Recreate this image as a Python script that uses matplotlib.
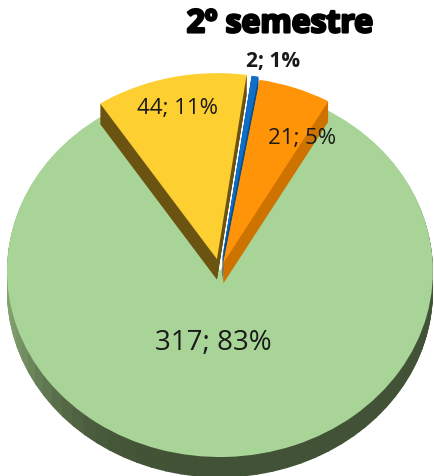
import numpy as np
import matplotlib.pyplot as plt
import matplotlib.patheffects as pe
from matplotlib.colors import to_rgb
from matplotlib.patches import Wedge

# slice values in the order they appear clockwise from the top
VALUES = [2, 21, 317, 44]
LABELS = ["2; 1%", "21; 5%", "317; 83%", "44; 11%"]
TITLE = "2º semestre"

TOP_COLORS = ["#0f6fc6", "#ff9408", "#a8d597", "#fdcf30"]
SIDE_COLORS = ["#0a4f8f", "#cf7300", "#425236", "#6b5312"]
WALL_LIGHT = "#86a673"   # lit left part of the big slice wall
EXPLODE = [0.06, 0.045, 0.0, 0.065]
LABEL_XY = [(0.25, 1.13), (0.385, 0.72), (-0.03, -0.38), (-0.2, 0.88)]
LABEL_SIZE = [15, 16, 20, 16]
LABEL_WEIGHT = ["bold", "normal", "normal", "normal"]

DEPTH = 0.11   # wall height in y data units
LAYERS = 25
SEGMENTS = 72

plt.rcParams["font.family"] = ["Open Sans", "DejaVu Sans"]

fig = plt.figure(figsize=(4.34, 4.77), dpi=100)
ax = fig.add_axes([0, 0, 1, 1])

wedges, _ = ax.pie(VALUES, colors=TOP_COLORS, startangle=82, counterclock=False,
                   explode=EXPLODE, radius=1, wedgeprops=dict(linewidth=0))

dark = np.array(to_rgb(SIDE_COLORS[2]))
light = np.array(to_rgb(WALL_LIGHT))

# extrude every slice downwards to fake the 3d wall
for i, w in enumerate(wedges):
    big = VALUES[i] == max(VALUES)
    w.set_zorder(2 if big else 5)
    cx, cy = w.center
    if big:
        # split the wall in thin pieces so the left side can be shaded lighter
        edges = np.linspace(w.theta1, w.theta2, SEGMENTS + 1)
        for a0, a1 in zip(edges[:-1], edges[1:]):
            mid = np.radians((a0 + a1) / 2)
            f = max(0.0, -np.cos(mid)) ** 4
            col = dark + (light - dark) * f
            for k in range(LAYERS, 0, -1):
                dy = DEPTH * k / LAYERS
                ax.add_patch(Wedge((cx, cy - dy), w.r, a0 - 0.3, a1 + 0.3,
                                   facecolor=col, edgecolor="none", zorder=1))
    else:
        for k in range(LAYERS, 0, -1):
            dy = DEPTH * k / LAYERS
            ax.add_patch(Wedge((cx, cy - dy), w.r, w.theta1, w.theta2,
                               facecolor=SIDE_COLORS[i], edgecolor="none", zorder=3))

for i, lab in enumerate(LABELS):
    ax.text(LABEL_XY[i][0], LABEL_XY[i][1], lab, ha="center", va="center",
            fontsize=LABEL_SIZE[i], fontweight=LABEL_WEIGHT[i], color="#1a1a1a", zorder=10)

fig.text(0.645, 0.948, TITLE, ha="center", va="center", fontsize=23,
         fontweight="bold", color="black",
         path_effects=[pe.withStroke(linewidth=1.8, foreground="black")])

ax.set_aspect("auto")
ax.set_xlim(-1.033, 1.005)
ax.set_ylim(-1.102, 1.462)
ax.axis("off")

fig.savefig("out.png", dpi=100)
